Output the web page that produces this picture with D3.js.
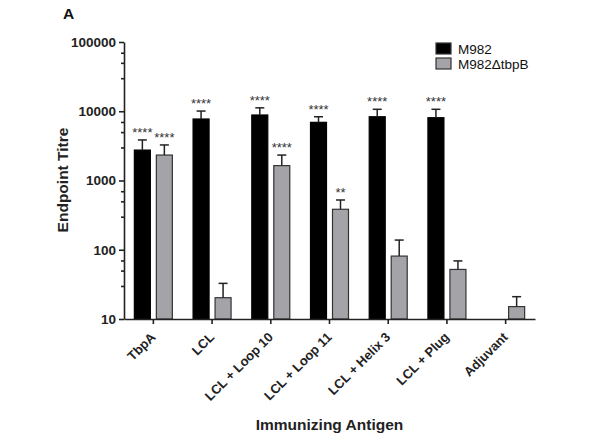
<!DOCTYPE html>
<html>
<head>
<meta charset="utf-8">
<script src="https://cdn.jsdelivr.net/npm/d3@7"></script>
<style>
  body { margin: 0; background: #fff; }
  svg { font-family: "Liberation Sans", Arial, sans-serif; }
</style>
</head>
<body>
<div id="chart"></div>
<script>
// values (endpoint titres, upper SD)
var categories = ["TbpA", "LCL", "LCL + Loop 10", "LCL + Loop 11", "LCL + Helix 3", "LCL + Plug", "Adjuvant"];
var m982 = [2750, 7730, 8830, 6920, 8330, 8070, null];
var m982Sd = [1100, 2340, 2370, 1410, 2340, 2600, null];
var tbpB = [2330, 20.3, 1640, 384, 81, 52, 15.1];
var tbpBSd = [930, 12.4, 690, 139, 57, 17, 5.9];
var m982Stars = ["****", "****", "****", "****", "****", "****", ""];
var tbpBStars = ["****", "", "****", "**", "", "", ""];
var yTicks = [10, 100, 1000, 10000, 100000];
var minorSteps = [3, 5, 7];
var seriesNames = ["M982", "M982\u0394tbpB"];
var seriesColors = ["#000000", "#a4a4a8"];

var width = 600, height = 447;
var margins = { left: 124, right: 65, top: 42, bottom: 128 };

var svg = d3.select("#chart").append("svg")
  .attr("width", width)
  .attr("height", height);

var xScale = d3.scaleBand()
  .domain(categories)
  .range([margins.left, width - margins.right]);

var yScale = d3.scaleLog()
  .domain([10, 100000])
  .range([height - margins.bottom, margins.top]);

var subScale = d3.scaleBand()
  .domain([0, 1])
  .range([-19, 19])
  .paddingInner(6 / 22);

// build rows per category/series
var rows = [];
categories.forEach(function (c, i) {
  rows.push({ cat: c, s: 0, v: m982[i], sd: m982Sd[i], star: m982Stars[i] });
  rows.push({ cat: c, s: 1, v: tbpB[i], sd: tbpBSd[i], star: tbpBStars[i] });
});
rows = rows.filter(function (d) { return d.v != null; });

function barX(d) {
  return xScale(d.cat) + xScale.bandwidth() / 2 + subScale(d.s);
}

// bars
svg.selectAll(".bar")
  .data(rows)
  .enter()
  .append("rect")
  .attr("class", "bar")
  .attr("x", barX)
  .attr("width", subScale.bandwidth())
  .attr("y", function (d) { return yScale(d.v); })
  .attr("height", function (d) { return yScale(10) - yScale(d.v); })
  .attr("fill", function (d) { return seriesColors[d.s]; })
  .attr("stroke", function (d) { return d.s === 0 ? "#000" : "#333"; })
  .attr("stroke-width", 1.2);

// error bars (upper only)
var err = svg.selectAll(".err")
  .data(rows)
  .enter()
  .append("g")
  .attr("class", "err")
  .attr("stroke", "#222")
  .attr("stroke-width", 1.5);

err.append("line")
  .attr("x1", function (d) { return barX(d) + subScale.bandwidth() / 2; })
  .attr("x2", function (d) { return barX(d) + subScale.bandwidth() / 2; })
  .attr("y1", function (d) { return yScale(d.v); })
  .attr("y2", function (d) { return yScale(d.v + d.sd); });

err.append("line")
  .attr("x1", function (d) { return barX(d) + subScale.bandwidth() / 2 - 4.5; })
  .attr("x2", function (d) { return barX(d) + subScale.bandwidth() / 2 + 4.5; })
  .attr("y1", function (d) { return yScale(d.v + d.sd); })
  .attr("y2", function (d) { return yScale(d.v + d.sd); });

// significance stars
svg.selectAll(".star")
  .data(rows.filter(function (d) { return d.star; }))
  .enter()
  .append("text")
  .attr("class", "star")
  .attr("x", function (d) { return barX(d) + subScale.bandwidth() / 2; })
  .attr("y", function (d) { return yScale(d.v + d.sd) - 3; })
  .attr("text-anchor", "middle")
  .attr("font-size", "13px")
  .attr("fill", "#333")
  .text(function (d) { return d.star; });

// y axis
var minorTicks = [];
yTicks.slice(0, -1).forEach(function (t) {
  minorSteps.forEach(function (m) { minorTicks.push(t * m); });
});

svg.append("g")
  .attr("class", "y-minor")
  .attr("transform", `translate(${margins.left},0)`)
  .call(d3.axisLeft(yScale).tickValues(minorTicks).tickSize(3).tickFormat(""))
  .call(function (g) { g.select(".domain").remove(); });

var yAxis = svg.append("g")
  .attr("class", "y-axis")
  .attr("transform", `translate(${margins.left},0)`)
  .call(d3.axisLeft(yScale).tickValues(yTicks).tickSize(5).tickSizeOuter(0)
    .tickPadding(3).tickFormat(d3.format("d")));

yAxis.selectAll("text")
  .attr("font-size", "13.5px")
  .attr("font-weight", "bold")
  .attr("fill", "#222")
  .attr("font-family", "Liberation Sans, Arial, sans-serif");

// x axis
var xAxis = svg.append("g")
  .attr("class", "x-axis")
  .attr("transform", `translate(0,${height - margins.bottom})`)
  .call(d3.axisBottom(xScale).tickSize(5).tickSizeOuter(0));

xAxis.selectAll("text")
  .attr("font-size", "13px")
  .attr("font-weight", "bold")
  .attr("fill", "#222")
  .attr("font-family", "Liberation Sans, Arial, sans-serif")
  .attr("text-anchor", "end")
  .attr("dy", null)
  .attr("y", 0)
  .attr("transform", "translate(3,19) rotate(-45)");

svg.selectAll(".domain, .tick line")
  .attr("stroke", "#222")
  .attr("stroke-width", 1.6);

// titles
svg.append("text")
  .attr("x", (margins.left + width - margins.right) / 2)
  .attr("y", 430)
  .attr("text-anchor", "middle")
  .attr("font-size", "15.5px")
  .attr("font-weight", "bold")
  .attr("fill", "#222")
  .text("Immunizing Antigen");

svg.append("text")
  .attr("transform", "rotate(-90)")
  .attr("x", -180)
  .attr("y", 68)
  .attr("text-anchor", "middle")
  .attr("font-size", "15.5px")
  .attr("font-weight", "bold")
  .attr("fill", "#222")
  .text("Endpoint Titre");

svg.append("text")
  .attr("x", 63)
  .attr("y", 18.5)
  .attr("font-size", "15.5px")
  .attr("font-weight", "bold")
  .attr("fill", "#111")
  .text("A");

// legend
var legend = svg.selectAll(".legend")
  .data(seriesNames)
  .enter()
  .append("g")
  .attr("class", "legend")
  .attr("transform", function (d, i) { return `translate(436,${43 + i * 15})`; });

legend.append("rect")
  .attr("width", 15)
  .attr("height", 11)
  .attr("fill", function (d, i) { return seriesColors[i]; })
  .attr("stroke", "#333")
  .attr("stroke-width", 1.2);

legend.append("text")
  .attr("x", 22)
  .attr("y", 10.5)
  .attr("font-size", "13.5px")
  .attr("fill", "#111")
  .text(function (d) { return d; });
</script>
</body>
</html>
